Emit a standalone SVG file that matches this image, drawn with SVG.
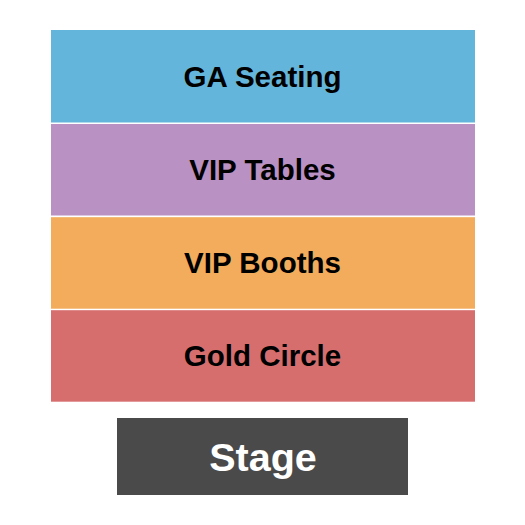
<svg xmlns="http://www.w3.org/2000/svg" width="525" height="525" viewBox="0 0 525 525">
<style>
.lbl{font-family:"Liberation Sans",Arial,sans-serif;font-weight:bold;font-size:29.5px;fill:#000;text-anchor:middle}
.stg{font-family:"Liberation Sans",Arial,sans-serif;font-weight:bold;font-size:39.5px;fill:#fff;text-anchor:middle}
</style>
<rect width="525" height="525" fill="#fff"/>
<g id="ga-seating">
<rect x="51" y="30" width="424" height="92.5" fill="#64B5DB"/>
<text class="lbl" x="262.5" y="86.5">GA Seating</text>
</g>
<g id="vip-tables">
<rect x="51" y="124" width="424" height="91.5" fill="#BA91C3"/>
<text class="lbl" x="262.5" y="180">VIP Tables</text>
</g>
<g id="vip-booths">
<rect x="51" y="217.2" width="424" height="91.5" fill="#F2AC5B"/>
<text class="lbl" x="262.5" y="273">VIP Booths</text>
</g>
<g id="gold-circle">
<rect x="51" y="310.2" width="424" height="91.5" fill="#D76E6E"/>
<text class="lbl" x="262.5" y="366">Gold Circle</text>
</g>
<g id="stage">
<rect x="117" y="418" width="291" height="77" fill="#4A4A4A"/>
<text class="stg" x="263" y="470.5">Stage</text>
</g>
<g id="connectors"/>
</svg>
